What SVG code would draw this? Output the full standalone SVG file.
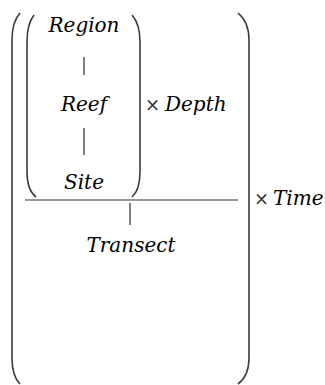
<svg xmlns="http://www.w3.org/2000/svg" width="325" height="385" viewBox="0 0 325 385">
<style>
.t{font-family:"DejaVu Serif","Liberation Serif",serif;font-style:italic;font-size:20px;fill:#000}
.x{font-family:"DejaVu Serif","Liberation Serif",serif;font-size:18px;fill:#333}
.b{fill:none;stroke:#3a3a4a;stroke-width:1.6}
.l{stroke:#505066;stroke-width:1.5}
</style>
<rect width="325" height="385" fill="#fff"/>
<g id="brackets">
<path class="b" d="M20,13 Q12,22 12,40 L12,358 Q12,376 20,384"/>
<path class="b" d="M238,13 Q249,22 249,40 L249,358 Q249,376 238,384"/>
<path class="b" d="M34,15 Q27,24 27,42 L27,172 Q27,190 36,197"/>
<path class="b" d="M132,15 Q140,24 140,42 L140,172 Q140,190 132,197"/>
</g>
<g id="region"><text class="t" x="84" y="32" text-anchor="middle">Region</text></g>
<g id="reef"><text class="t" x="84" y="111" text-anchor="middle">Reef</text></g>
<g id="site"><text class="t" x="84" y="189" text-anchor="middle">Site</text></g>
<g id="depth"><text class="x" x="145" y="111">×</text><text class="t" x="165" y="111">Depth</text></g>
<g id="transect"><text class="t" x="131" y="252" text-anchor="middle">Transect</text></g>
<g id="time"><text class="x" x="254" y="205">×</text><text class="t" x="273" y="205">Time</text></g>
<g id="connectors">
<line class="l" x1="84" y1="57" x2="84" y2="75"/>
<line class="l" x1="84" y1="128" x2="84" y2="155"/>
<line x1="25" y1="200" x2="238" y2="200" stroke="#333" stroke-width="1.2"/>
<line class="l" x1="130" y1="203" x2="130" y2="225"/>
</g>
</svg>
